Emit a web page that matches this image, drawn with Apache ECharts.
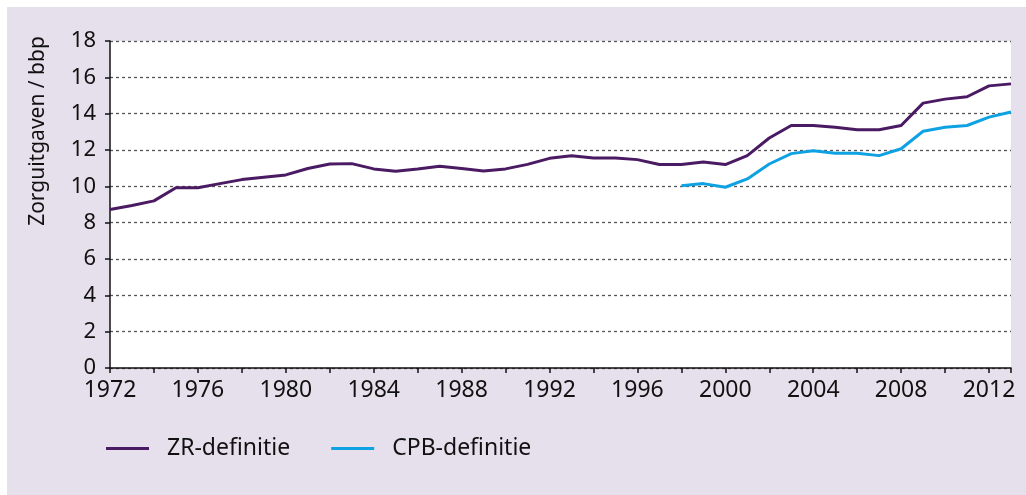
<!DOCTYPE html>
<html>
<head>
<meta charset="utf-8">
<script src="https://cdn.jsdelivr.net/npm/echarts@6/dist/echarts.min.js"></script>
<style>
html,body{margin:0;padding:0;background:#fff;}
#chart{width:1026px;height:495px;}
</style>
</head>
<body>
<div id="chart"></div>
<script>
const years = [1972,1973,1974,1975,1976,1977,1978,1979,1980,1981,1982,1983,1984,1985,1986,1987,1988,1989,1990,1991,1992,1993,1994,1995,1996,1997,1998,1999,2000,2001,2002,2003,2004,2005,2006,2007,2008,2009,2010,2011,2012,2013];
const zrValues = [8.73,8.95,9.2,9.92,9.92,10.15,10.37,10.5,10.63,10.98,11.23,11.25,10.96,10.83,10.96,11.1,10.98,10.85,10.96,11.21,11.54,11.68,11.56,11.56,11.47,11.2,11.2,11.34,11.2,11.69,12.66,13.35,13.35,13.25,13.12,13.12,13.35,14.58,14.8,14.93,15.53,15.64];
const cpbYears = [1998,1999,2000,2001,2002,2003,2004,2005,2006,2007,2008,2009,2010,2011,2012,2013];
const cpbValues = [10.03,10.15,9.95,10.41,11.23,11.8,11.96,11.82,11.82,11.69,12.07,13.03,13.25,13.35,13.81,14.09];
const seriesNames = ['ZR-definitie','CPB-definitie'];
const yAxisTitle = 'Zorguitgaven / bbp';

const FONT = 'Noto Sans';
const chart = echarts.init(document.getElementById('chart'), null, {renderer:'canvas'});
chart.setOption({
  animation: false,
  textStyle: {fontFamily: FONT},
  graphic: [
    {type:'rect', left:7, top:7, z:-10, shape:{width:1019, height:488}, style:{fill:'#e6e0ed'}},
    {type:'rect', left:110, top:41, z:-9, shape:{width:901, height:327}, style:{fill:'#ffffff'}},
    {type:'text', x:38, y:131, rotation:Math.PI/2, z:10,
     style:{text:yAxisTitle, fontFamily:FONT, fontSize:21, fill:'#111', textAlign:'center', textVerticalAlign:'middle'}}
  ],
  grid: {left:110, top:41, right:15, bottom:127, containLabel:false},
  legend: {
    left: 106, top: 437, padding: 0,
    itemWidth: 43, itemHeight: 14, itemGap: 41,
    icon: 'path://M0,6 L43,6 L43,9 L0,9 Z',
    textStyle: {fontFamily: FONT, fontSize: 23, color:'#111', padding:[0,0,0,13]},
    data: seriesNames
  },
  xAxis: {
    type: 'value', min: 1972, max: 2013, interval: 4,
    axisLine: {show:true, lineStyle:{color:'#111', width:1.5}},
    axisTick: {show:true, length:5, lineStyle:{color:'#111', width:1.5}},
    minorTick: {show:true, splitNumber:2, length:5, lineStyle:{color:'#111', width:1.5}},
    splitLine: {show:false},
    axisLabel: {fontFamily:FONT, fontSize:23, color:'#111', margin:11, formatter: v => String(v)}
  },
  yAxis: {
    type: 'value', min: 0, max: 18, interval: 2,
    axisLine: {show:true, lineStyle:{color:'#111', width:1.5}},
    axisTick: {show:true, inside:false, length:5, lineStyle:{color:'#111', width:1.5}},
    splitLine: {show:true, lineStyle:{color:'#555', type:[3,3], width:1.3}},
    axisLabel: {fontFamily:FONT, fontSize:22, color:'#111', margin:14}
  },
  series: [
    {name: seriesNames[0], type:'line', showSymbol:false, symbol:'none',
     lineStyle:{color:'#4a1a63', width:3}, itemStyle:{color:'#4a1a63'},
     data: years.map((y,i)=>[y, zrValues[i]])},
    {name: seriesNames[1], type:'line', showSymbol:false, symbol:'none',
     lineStyle:{color:'#0ea2e2', width:3}, itemStyle:{color:'#0ea2e2'},
     data: cpbYears.map((y,i)=>[y, cpbValues[i]])}
  ]
});
</script>
</body>
</html>
